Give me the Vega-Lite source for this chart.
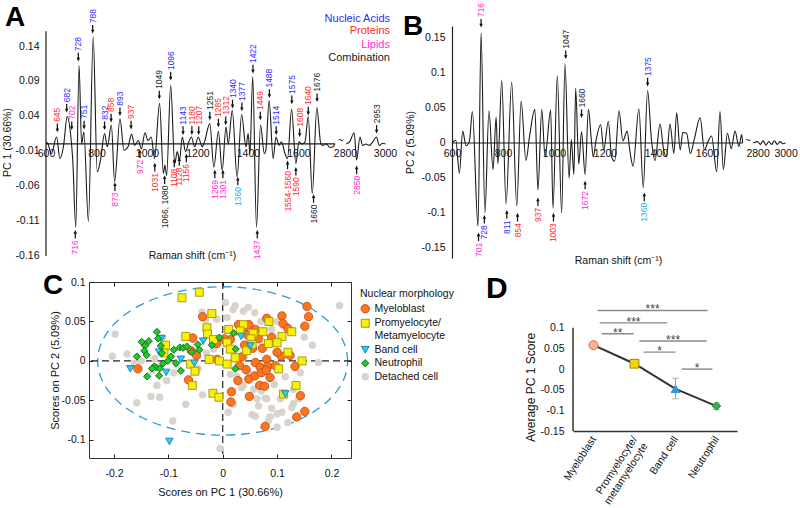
{
"$schema":"https://vega.github.io/schema/vega-lite/v6.json",
"background":"white",
"padding":{"left":2,"top":3,"right":0,"bottom":0},
"config":{
 "view":{"stroke":null},
 "font":"Liberation Sans",
 "axis":{"grid":false,"labelFont":"Liberation Sans","titleFont":"Liberation Sans","labelColor":"#111","titleColor":"#111","titleFontWeight":"normal","domainColor":"#222","tickColor":"#222","labelOverlap":false,"labelFlush":false,"labelBound":false,"tickCount":20},
 "legend":{"labelFont":"Liberation Sans","titleFont":"Liberation Sans"}
},
"bounds":"full","spacing":5,
"vconcat":[
{"hconcat":[
{
 "width":354,"height":232,
 "layer":[
  {"data":{"values":[{}]},"mark":{"type":"rule","color":"#1a1a1a","strokeWidth":1.2},
   "encoding":{"x":{"datum":600},"x2":{"datum":1745},"y":{"datum":0}}},
  {"data":{"values":[{}]},"mark":{"type":"rule","color":"#1a1a1a","strokeWidth":1.2},
   "encoding":{"x":{"datum":600},"y":{"datum":-0.16},"y2":{"datum":0.161}}},
  {"data":{"values":[
   {"w":600,"v":0,"s":1},{"w":605,"v":0.002,"s":1},{"w":621,"v":-0.014,"s":1},{"w":642,"v":0.010,"s":1},{"w":655,"v":-0.021,"s":1},{"w":669,"v":-0.004,"s":1},{"w":684,"v":0.039,"s":1},{"w":698,"v":0.012,"s":1},{"w":706,"v":-0.023,"s":1},{"w":718,"v":-0.119,"s":1},{"w":731,"v":0.112,"s":1},{"w":741,"v":0,"s":1},{"w":750,"v":0.017,"s":1},{"w":768,"v":-0.111,"s":1},{"w":787,"v":0.153,"s":1},{"w":803,"v":-0.04,"s":1},{"w":816,"v":-0.023,"s":1},{"w":832,"v":0.015,"s":1},{"w":843,"v":-0.004,"s":1},{"w":859,"v":0.027,"s":1},{"w":872,"v":-0.054,"s":1},{"w":893,"v":0.036,"s":1},{"w":909,"v":-0.009,"s":1},{"w":925,"v":-0.004,"s":1},{"w":939,"v":0.014,"s":1},{"w":951,"v":-0.002,"s":1},{"w":966,"v":0.005,"s":1},{"w":978,"v":-0.007,"s":1},{"w":992,"v":0.016,"s":1},{"w":1004,"v":0.005,"s":1},{"w":1017,"v":0.010,"s":1},{"w":1030,"v":-0.021,"s":1},{"w":1050,"v":0.058,"s":1},{"w":1065,"v":-0.042,"s":1},{"w":1071,"v":-0.030,"s":1},{"w":1078,"v":-0.045,"s":1},{"w":1094,"v":0.084,"s":1},{"w":1110,"v":-0.028,"s":1},{"w":1120,"v":-0.011,"s":1},{"w":1129,"v":-0.023,"s":1},{"w":1140,"v":0.010,"s":1},{"w":1153,"v":-0.011,"s":1},{"w":1165,"v":0.002,"s":1},{"w":1176,"v":0.010,"s":1},{"w":1189,"v":-0.004,"s":1},{"w":1203,"v":0.010,"s":1},{"w":1219,"v":-0.004,"s":1},{"w":1228,"v":0.003,"s":1},{"w":1249,"v":0.029,"s":1},{"w":1265,"v":-0.033,"s":1},{"w":1283,"v":0.018,"s":1},{"w":1298,"v":-0.038,"s":1},{"w":1313,"v":0.024,"s":1},{"w":1322,"v":0,"s":1},{"w":1338,"v":0.048,"s":1},{"w":1357,"v":-0.047,"s":1},{"w":1375,"v":0.042,"s":1},{"w":1392,"v":-0.004,"s":1},{"w":1401,"v":0.015,"s":1},{"w":1408,"v":-0.014,"s":1},{"w":1419,"v":0.096,"s":1},{"w":1434,"v":-0.119,"s":1},{"w":1450,"v":0.027,"s":1},{"w":1465,"v":-0.014,"s":1},{"w":1471,"v":-0.009,"s":1},{"w":1484,"v":0.062,"s":1},{"w":1500,"v":-0.021,"s":1},{"w":1511,"v":0.010,"s":1},{"w":1524,"v":-0.002,"s":1},{"w":1533,"v":0.003,"s":1},{"w":1547,"v":-0.014,"s":1},{"w":1557,"v":-0.021,"s":1},{"w":1573,"v":0.050,"s":1},{"w":1590,"v":-0.028,"s":1},{"w":1602,"v":0.003,"s":1},{"w":1615,"v":0,"s":1},{"w":1626,"v":0.003,"s":1},{"w":1639,"v":0.039,"s":1},{"w":1655,"v":-0.071,"s":1},{"w":1673,"v":0.052,"s":1},{"w":1689,"v":0,"s":1},{"w":1698,"v":-0.002,"s":1},{"w":1711,"v":0,"s":1},{"w":1725,"v":-0.005,"s":1},{"w":1738,"v":-0.004,"s":1},{"w":1744,"v":0,"s":1},
   {"w":2806,"v":0,"s":2},{"w":2823,"v":0.003,"s":2},{"w":2846,"v":0.016,"s":2},{"w":2858,"v":-0.023,"s":2},{"w":2875,"v":0.010,"s":2},{"w":2888,"v":-0.002,"s":2},{"w":2905,"v":0,"s":2},{"w":2922,"v":-0.002,"s":2},{"w":2939,"v":0.003,"s":2},{"w":2957,"v":0.010,"s":2},{"w":2971,"v":-0.002,"s":2},{"w":2988,"v":0.001,"s":2},{"w":3002,"v":0,"s":2}
  ]},
   "mark":{"type":"line","interpolate":"monotone","color":"#1a1a1a","strokeWidth":1.1},
   "encoding":{
    "x":{"field":"w","type":"quantitative","scale":{"domain":[600,1745,2790,3010],"range":[0,289,297,341],"nice":false,"zero":false},
     "axis":{"orient":"bottom","offset":-115,"values":[600,800,1000,1200,1400,1600,2800,3000],"tickCount":20,"format":"d","domain":false,"ticks":false,"labelPadding":5,"labelFontSize":10.5,"title":"Raman shift (cm⁻¹)","titleFontSize":10.5,"titleX":146,"titleY":112,"titleBaseline":"middle"}},
    "y":{"field":"v","type":"quantitative","scale":{"domain":[-0.163,0.1686],"nice":false,"zero":false},
     "axis":{"values":[-0.16,-0.11,-0.06,-0.01,0.04,0.09,0.14],"tickCount":20,"labelExpr":"'' + datum.value","domain":false,"ticks":false,"labelPadding":7,"labelFontSize":10.5,"title":"PC 1 (30.66%)","titleFontSize":10.5,"titleX":-38.5,"titleBaseline":"middle"}},
    "detail":{"field":"s","type":"nominal"}
   }},
  {"data":{"values":[{"w":2480,"v":0,"t":"~"}]},
   "mark":{"type":"text","fontSize":10,"color":"#222","baseline":"middle","dy":-3},
   "encoding":{"x":{"field":"w","type":"quantitative"},"y":{"field":"v","type":"quantitative"},"text":{"field":"t"}}},
  {"data":{"values":[{"w":437.6,"v":0.1686,"t":"A"}]},
   "mark":{"type":"text","fontSize":28,"fontWeight":"bold","color":"#000","align":"left","baseline":"alphabetic"},
   "encoding":{"x":{"field":"w","type":"quantitative"},"y":{"field":"v","type":"quantitative"},"text":{"field":"t"}}},
  {"data":{"values":[
   {"w":645,"v":0.023,"t":"645","c":"P"},{"w":682,"v":0.051,"t":"682","c":"N"},{"w":702,"v":0.026,"t":"702","c":"L"},{"w":728,"v":0.124,"t":"728","c":"N"},{"w":751,"v":0.027,"t":"751","c":"N"},{"w":785,"v":0.164,"t":"788","c":"N"},{"w":832,"v":0.026,"t":"832","c":"N"},{"w":858,"v":0.037,"t":"858","c":"P"},{"w":893,"v":0.046,"t":"893","c":"N"},{"w":937,"v":0.027,"t":"937","c":"P"},{"w":1049,"v":0.070,"t":"1049","c":"C"},{"w":1094,"v":0.097,"t":"1096","c":"N"},{"w":1143,"v":0.019,"t":"1143","c":"N"},{"w":1178,"v":0.019,"t":"1180","c":"P"},{"w":1205,"v":0.019,"t":"1207","c":"P"},{"w":1249,"v":0.040,"t":"1251","c":"C"},{"w":1283,"v":0.030,"t":"1285","c":"P"},{"w":1312,"v":0.033,"t":"1312","c":"P"},{"w":1339,"v":0.057,"t":"1340","c":"N"},{"w":1376,"v":0.053,"t":"1377","c":"N"},{"w":1420,"v":0.107,"t":"1422","c":"N"},{"w":1449,"v":0.040,"t":"1449","c":"P"},{"w":1485,"v":0.072,"t":"1488","c":"N"},{"w":1512,"v":0.019,"t":"1514","c":"N"},{"w":1574,"v":0.063,"t":"1575","c":"N"},{"w":1605,"v":0.016,"t":"1608","c":"P"},{"w":1639,"v":0.047,"t":"1640","c":"P"},{"w":1674,"v":0.066,"t":"1676","c":"C"},{"w":2958,"v":0.021,"t":"2953","c":"C"}
  ]},
   "layer":[
    {"mark":{"type":"point","shape":"arrow","angle":180,"size":75,"filled":true,"color":"#111","opacity":1},
     "encoding":{"x":{"field":"w","type":"quantitative"},"y":{"field":"v","type":"quantitative"}}},
    {"mark":{"type":"text","angle":270,"align":"left","baseline":"middle","dx":6,"fontSize":8.5},
     "encoding":{"x":{"field":"w","type":"quantitative"},"y":{"field":"v","type":"quantitative"},"text":{"field":"t"},
      "color":{"field":"c","type":"nominal","scale":{"domain":["N","P","L","C","X"],"range":["#2b2bff","#ff2a2a","#ff2ad2","#1a1a1a","#1ab0ee"]},"legend":null}}}
   ]},
  {"data":{"values":[
   {"w":716,"v":-0.129,"t":"716","c":"L"},{"w":873,"v":-0.061,"t":"873","c":"L"},{"w":972,"v":-0.014,"t":"972","c":"L"},{"w":1031,"v":-0.033,"t":"1031","c":"P"},{"w":1070,"v":-0.051,"t":"1066, 1080","c":"C"},{"w":1108,"v":-0.027,"t":"1108","c":"P"},{"w":1128,"v":-0.025,"t":"1128","c":"P"},{"w":1156,"v":-0.020,"t":"1156","c":"P"},{"w":1269,"v":-0.043,"t":"1269","c":"L"},{"w":1301,"v":-0.043,"t":"1301","c":"L"},{"w":1360,"v":-0.053,"t":"1360","c":"X"},{"w":1437,"v":-0.129,"t":"1437","c":"L"},{"w":1557,"v":-0.030,"t":"1554-1560","c":"P"},{"w":1590,"v":-0.039,"t":"1590","c":"P"},{"w":1660,"v":-0.078,"t":"1660","c":"C"},{"w":2858,"v":-0.037,"t":"2850","c":"L"}
  ]},
   "layer":[
    {"mark":{"type":"point","shape":"arrow","angle":0,"size":75,"filled":true,"color":"#111","opacity":1},
     "encoding":{"x":{"field":"w","type":"quantitative"},"y":{"field":"v","type":"quantitative"}}},
    {"mark":{"type":"text","angle":270,"align":"right","baseline":"middle","dx":-6,"fontSize":8.5},
     "encoding":{"x":{"field":"w","type":"quantitative"},"y":{"field":"v","type":"quantitative"},"text":{"field":"t"},
      "color":{"field":"c","type":"nominal","scale":{"domain":["N","P","L","C","X"],"range":["#2b2bff","#ff2a2a","#ff2ad2","#1a1a1a","#1ab0ee"]},"legend":null}}}
   ]},
  {"data":{"values":[{"w":3025,"v":0.179,"t":"Nucleic Acids","c":"N"},{"w":3025,"v":0.1614,"t":"Proteins","c":"P"},{"w":3025,"v":0.1414,"t":"Lipids","c":"L"},{"w":3025,"v":0.1229,"t":"Combination","c":"C"}]},
   "mark":{"type":"text","align":"right","baseline":"middle","fontSize":11},
   "encoding":{"x":{"field":"w","type":"quantitative"},"y":{"field":"v","type":"quantitative"},"text":{"field":"t"},
    "color":{"field":"c","type":"nominal","scale":{"domain":["N","P","L","C","X"],"range":["#2b2bff","#ff2a2a","#ff2ad2","#1a1a1a","#1ab0ee"]},"legend":null}}}
 ]
},
{
 "width":338,"height":232,
 "layer":[
  {"data":{"values":[{}]},"mark":{"type":"rule","color":"#1a1a1a","strokeWidth":1.2},
   "encoding":{"x":{"datum":600},"x2":{"datum":1740},"y":{"datum":0}}},
  {"data":{"values":[
   {"w":600,"v":0,"s":1},{"w":615,"v":0.004,"s":1},{"w":629,"v":-0.043,"s":1},{"w":642,"v":0.017,"s":1},{"w":655,"v":-0.004,"s":1},{"w":668,"v":0.002,"s":1},{"w":680,"v":0.045,"s":1},{"w":702,"v":-0.119,"s":1},{"w":714,"v":0.157,"s":1},{"w":729,"v":-0.100,"s":1},{"w":745,"v":0.046,"s":1},{"w":761,"v":-0.038,"s":1},{"w":773,"v":0.037,"s":1},{"w":780,"v":-0.030,"s":1},{"w":795,"v":0.090,"s":1},{"w":812,"v":-0.087,"s":1},{"w":834,"v":0.087,"s":1},{"w":854,"v":-0.090,"s":1},{"w":871,"v":0.060,"s":1},{"w":890,"v":-0.025,"s":1},{"w":905,"v":0.012,"s":1},{"w":925,"v":0.048,"s":1},{"w":937,"v":-0.067,"s":1},{"w":952,"v":0.048,"s":1},{"w":965,"v":-0.020,"s":1},{"w":987,"v":0.047,"s":1},{"w":996,"v":-0.093,"s":1},{"w":1013,"v":0.096,"s":1},{"w":1030,"v":-0.100,"s":1},{"w":1043,"v":0.113,"s":1},{"w":1059,"v":-0.050,"s":1},{"w":1068,"v":0.005,"s":1},{"w":1078,"v":-0.045,"s":1},{"w":1085,"v":0.078,"s":1},{"w":1097,"v":-0.030,"s":1},{"w":1108,"v":0.016,"s":1},{"w":1122,"v":-0.045,"s":1},{"w":1135,"v":0.048,"s":1},{"w":1146,"v":0.006,"s":1},{"w":1154,"v":-0.020,"s":1},{"w":1165,"v":0.004,"s":1},{"w":1183,"v":0.026,"s":1},{"w":1195,"v":-0.010,"s":1},{"w":1213,"v":0.031,"s":1},{"w":1226,"v":-0.020,"s":1},{"w":1238,"v":-0.026,"s":1},{"w":1255,"v":0.046,"s":1},{"w":1270,"v":0.003,"s":1},{"w":1287,"v":0.017,"s":1},{"w":1297,"v":-0.010,"s":1},{"w":1310,"v":-0.033,"s":1},{"w":1333,"v":0.049,"s":1},{"w":1350,"v":-0.064,"s":1},{"w":1367,"v":0.075,"s":1},{"w":1382,"v":0.005,"s":1},{"w":1396,"v":-0.025,"s":1},{"w":1416,"v":0.027,"s":1},{"w":1430,"v":-0.010,"s":1},{"w":1441,"v":-0.020,"s":1},{"w":1455,"v":0.027,"s":1},{"w":1470,"v":-0.015,"s":1},{"w":1481,"v":0.043,"s":1},{"w":1495,"v":-0.010,"s":1},{"w":1505,"v":0.015,"s":1},{"w":1520,"v":0.014,"s":1},{"w":1535,"v":-0.015,"s":1},{"w":1550,"v":0.005,"s":1},{"w":1573,"v":0.036,"s":1},{"w":1590,"v":-0.010,"s":1},{"w":1604,"v":0.002,"s":1},{"w":1618,"v":0.010,"s":1},{"w":1638,"v":-0.041,"s":1},{"w":1651,"v":0.045,"s":1},{"w":1664,"v":-0.038,"s":1},{"w":1680,"v":0.014,"s":1},{"w":1695,"v":-0.008,"s":1},{"w":1710,"v":0.017,"s":1},{"w":1725,"v":-0.005,"s":1},{"w":1736,"v":0.012,"s":1},{"w":1740,"v":0,"s":1},
   {"w":2770,"v":0,"s":2},{"w":2800,"v":0.002,"s":2},{"w":2820,"v":-0.002,"s":2},{"w":2840,"v":0.003,"s":2},{"w":2860,"v":-0.003,"s":2},{"w":2880,"v":0.002,"s":2},{"w":2900,"v":-0.002,"s":2},{"w":2920,"v":0.003,"s":2},{"w":2940,"v":-0.002,"s":2},{"w":2960,"v":0.002,"s":2},{"w":2980,"v":-0.001,"s":2},{"w":3000,"v":0,"s":2}
  ]},
   "mark":{"type":"line","interpolate":"monotone","color":"#1a1a1a","strokeWidth":1.1},
   "encoding":{
    "x":{"field":"w","type":"quantitative","scale":{"domain":[600,1740,2760,3010],"range":[0,290.7,300,335],"nice":false,"zero":false},
     "axis":{"orient":"bottom","offset":-115,"values":[600,800,1000,1200,1400,1600,2800,3000],"tickCount":20,"format":"d","domain":false,"ticks":false,"labelPadding":5,"labelFontSize":10.5,"title":"Raman shift (cm⁻¹)","titleFontSize":10.5,"titleX":166,"titleY":117,"titleBaseline":"middle"}},
    "y":{"field":"v","type":"quantitative","scale":{"domain":[-0.1643,0.1671],"nice":false,"zero":false},
     "axis":{"values":[-0.15,-0.1,-0.05,0,0.05,0.1,0.15],"tickCount":20,"labelExpr":"'' + datum.value","domain":true,"domainWidth":1.2,"ticks":false,"labelPadding":7,"labelFontSize":10.5,"title":"PC 2 (5.09%)","titleFontSize":10.5,"titleX":-42,"titleBaseline":"middle"}},
    "detail":{"field":"s","type":"nominal"}
   }},
  {"data":{"values":[{"w":2321,"v":0,"t":"~"}]},"mark":{"type":"text","fontSize":10,"color":"#222","baseline":"middle","dy":-2},
   "encoding":{"x":{"field":"w","type":"quantitative"},"y":{"field":"v","type":"quantitative"},"text":{"field":"t"}}},
  {"data":{"values":[{"w":407.8,"v":0.1542,"t":"B"}]},
   "mark":{"type":"text","fontSize":28,"fontWeight":"bold","color":"#000","align":"left","baseline":"alphabetic"},
   "encoding":{"x":{"field":"w","type":"quantitative"},"y":{"field":"v","type":"quantitative"},"text":{"field":"t"}}},
  {"data":{"values":[{"w":714,"v":0.171,"t":"716","c":"L"},{"w":1046,"v":0.126,"t":"1047","c":"C"},{"w":1108,"v":0.042,"t":"1660","c":"C"},{"w":1367,"v":0.087,"t":"1375","c":"N"}]},
   "layer":[
    {"mark":{"type":"point","shape":"arrow","angle":180,"size":75,"filled":true,"color":"#111","opacity":1},
     "encoding":{"x":{"field":"w","type":"quantitative"},"y":{"field":"v","type":"quantitative"}}},
    {"mark":{"type":"text","angle":270,"align":"left","baseline":"middle","dx":6,"fontSize":8.5},
     "encoding":{"x":{"field":"w","type":"quantitative"},"y":{"field":"v","type":"quantitative"},"text":{"field":"t"},
      "color":{"field":"c","type":"nominal","scale":{"domain":["N","P","L","C","X"],"range":["#2b2bff","#ff2a2a","#ff2ad2","#1a1a1a","#1ab0ee"]},"legend":null}}}
   ]},
  {"data":{"values":[{"w":704,"v":-0.134,"t":"701","c":"L"},{"w":727,"v":-0.109,"t":"728","c":"N"},{"w":815,"v":-0.102,"t":"811","c":"N"},{"w":857,"v":-0.106,"t":"854","c":"P"},{"w":937,"v":-0.084,"t":"937","c":"P"},{"w":998,"v":-0.106,"t":"1003","c":"P"},{"w":1122,"v":-0.060,"t":"1672","c":"L"},{"w":1354,"v":-0.077,"t":"1360","c":"X"}]},
   "layer":[
    {"mark":{"type":"point","shape":"arrow","angle":0,"size":75,"filled":true,"color":"#111","opacity":1},
     "encoding":{"x":{"field":"w","type":"quantitative"},"y":{"field":"v","type":"quantitative"}}},
    {"mark":{"type":"text","angle":270,"align":"right","baseline":"middle","dx":-6,"fontSize":8.5},
     "encoding":{"x":{"field":"w","type":"quantitative"},"y":{"field":"v","type":"quantitative"},"text":{"field":"t"},
      "color":{"field":"c","type":"nominal","scale":{"domain":["N","P","L","C","X"],"range":["#2b2bff","#ff2a2a","#ff2ad2","#1a1a1a","#1ab0ee"]},"legend":null}}}
   ]}
 ]
}
],"spacing":52,"bounds":"flush"},
{"hconcat":[
{"width":43,"height":1,"data":{"values":[]},"mark":"point"},
{
 "width":262,"height":176,
 "view":{"stroke":"#333","strokeWidth":1},
 "resolve":{"axis":{"x":"independent","y":"independent"}},
 "layer":[
  {"data":{"values":[
   {"i":0,"x":0.23,"y":0},{"i":1,"x":0.2265,"y":0.0163},{"i":2,"x":0.2161,"y":0.0321},{"i":3,"x":0.1992,"y":0.047},{"i":4,"x":0.1762,"y":0.0604},{"i":5,"x":0.1478,"y":0.072},{"i":6,"x":0.115,"y":0.0814},{"i":7,"x":0.0787,"y":0.0883},{"i":8,"x":0.0399,"y":0.0926},{"i":9,"x":0,"y":0.094},{"i":10,"x":-0.0399,"y":0.0926},{"i":11,"x":-0.0787,"y":0.0883},{"i":12,"x":-0.115,"y":0.0814},{"i":13,"x":-0.1478,"y":0.072},{"i":14,"x":-0.1762,"y":0.0604},{"i":15,"x":-0.1992,"y":0.047},{"i":16,"x":-0.2161,"y":0.0321},{"i":17,"x":-0.2265,"y":0.0163},{"i":18,"x":-0.23,"y":0},{"i":19,"x":-0.2265,"y":-0.0163},{"i":20,"x":-0.2161,"y":-0.0321},{"i":21,"x":-0.1992,"y":-0.047},{"i":22,"x":-0.1762,"y":-0.0604},{"i":23,"x":-0.1478,"y":-0.072},{"i":24,"x":-0.115,"y":-0.0814},{"i":25,"x":-0.0787,"y":-0.0883},{"i":26,"x":-0.0399,"y":-0.0926},{"i":27,"x":0,"y":-0.094},{"i":28,"x":0.0399,"y":-0.0926},{"i":29,"x":0.0787,"y":-0.0883},{"i":30,"x":0.115,"y":-0.0814},{"i":31,"x":0.1478,"y":-0.072},{"i":32,"x":0.1762,"y":-0.0604},{"i":33,"x":0.1992,"y":-0.047},{"i":34,"x":0.2161,"y":-0.0321},{"i":35,"x":0.2265,"y":-0.0163},{"i":36,"x":0.23,"y":0}
  ]},
   "mark":{"type":"line","interpolate":"cardinal","color":"#2b9bd6","strokeWidth":1.3,"strokeDash":[9,6]},
   "encoding":{
    "x":{"field":"x","type":"quantitative","scale":{"domain":[-0.246,0.236],"nice":false,"zero":false},"axis":{"orient":"top","values":[-0.2,-0.1,0,0.1,0.2],"labels":false,"domain":false,"ticks":true,"tickSize":-4,"title":null}},
    "y":{"field":"y","type":"quantitative","scale":{"domain":[-0.123,0.1],"nice":false,"zero":false},"axis":{"orient":"right","values":[-0.1,-0.05,0,0.05,0.1],"labels":false,"domain":false,"ticks":true,"tickSize":-4,"title":null}},
    "order":{"field":"i","type":"quantitative"}
   }},
  {"data":{"values":[{}]},"mark":{"type":"rule","color":"#222","strokeWidth":1.2,"strokeDash":[7,4]},
   "encoding":{"y":{"datum":0,"axis":null}}},
  {"data":{"values":[{}]},"mark":{"type":"rule","color":"#222","strokeWidth":1.2,"strokeDash":[7,4]},
   "encoding":{"x":{"datum":0,"axis":null}}},
  {"data":{"values":[{"x":-0.3306,"y":0.0843,"t":"C"}]},
   "mark":{"type":"text","fontSize":28,"fontWeight":"bold","color":"#000","align":"left","baseline":"alphabetic"},
   "encoding":{"x":{"field":"x","type":"quantitative","axis":null},"y":{"field":"y","type":"quantitative","axis":null},"text":{"field":"t"}}},
  {"data":{"values":[
   {"x":-0.198,"y":0.034,"type":"Detached cell"},{"x":-0.203,"y":0.006,"type":"Detached cell"},{"x":-0.176,"y":0.009,"type":"Detached cell"},{"x":-0.162,"y":-0.003,"type":"Detached cell"},{"x":-0.158,"y":-0.053,"type":"Detached cell"},{"x":-0.132,"y":-0.045,"type":"Detached cell"},{"x":-0.116,"y":-0.046,"type":"Detached cell"},{"x":-0.092,"y":-0.076,"type":"Detached cell"},{"x":-0.068,"y":-0.055,"type":"Detached cell"},{"x":-0.037,"y":-0.043,"type":"Detached cell"},{"x":-0.130,"y":-0.012,"type":"Detached cell"},{"x":-0.121,"y":-0.031,"type":"Detached cell"},{"x":-0.103,"y":-0.025,"type":"Detached cell"},{"x":-0.005,"y":-0.111,"type":"Detached cell"},{"x":0.005,"y":0.074,"type":"Detached cell"},{"x":0.019,"y":0.065,"type":"Detached cell"},{"x":0.047,"y":0.068,"type":"Detached cell"},{"x":0.059,"y":0.061,"type":"Detached cell"},{"x":0.038,"y":0.063,"type":"Detached cell"},{"x":0.023,"y":0.070,"type":"Detached cell"},{"x":0.215,"y":0.070,"type":"Detached cell"},{"x":0.176,"y":-0.002,"type":"Detached cell"},{"x":0.143,"y":-0.015,"type":"Detached cell"},{"x":0.130,"y":-0.036,"type":"Detached cell"},{"x":0.130,"y":-0.054,"type":"Detached cell"},{"x":0.109,"y":-0.065,"type":"Detached cell"},{"x":0.100,"y":-0.084,"type":"Detached cell"},{"x":0.087,"y":-0.071,"type":"Detached cell"},{"x":0.081,"y":-0.048,"type":"Detached cell"},{"x":0.057,"y":-0.036,"type":"Detached cell"},{"x":0.038,"y":-0.031,"type":"Detached cell"},{"x":0.026,"y":-0.020,"type":"Detached cell"},{"x":0.014,"y":-0.017,"type":"Detached cell"},{"x":0.063,"y":-0.048,"type":"Detached cell"},{"x":-0.011,"y":0.053,"type":"Detached cell"},{"x":-0.017,"y":0.015,"type":"Detached cell"},{"x":-0.031,"y":0.052,"type":"Detached cell"},{"x":0.118,"y":0.044,"type":"Detached cell"},{"x":0.078,"y":-0.047,"type":"Detached cell"},{"x":0.106,"y":-0.048,"type":"Detached cell"},{"x":0.100,"y":-0.067,"type":"Detached cell"},{"x":0.084,"y":-0.076,"type":"Detached cell"},{"x":0.127,"y":-0.059,"type":"Detached cell"},{"x":0.066,"y":-0.057,"type":"Detached cell"},{"x":0.054,"y":-0.068,"type":"Detached cell"},{"x":0.071,"y":-0.038,"type":"Detached cell"},{"x":0.048,"y":-0.015,"type":"Detached cell"},{"x":0.035,"y":-0.034,"type":"Detached cell"},{"x":0.020,"y":-0.055,"type":"Detached cell"},{"x":-0.150,"y":0.000,"type":"Detached cell"},{"x":-0.125,"y":0.003,"type":"Detached cell"},{"x":-0.090,"y":-0.015,"type":"Detached cell"},{"x":-0.085,"y":-0.005,"type":"Detached cell"},{"x":-0.110,"y":0.030,"type":"Detached cell"},{"x":0.090,"y":0.040,"type":"Detached cell"},{"x":0.100,"y":0.050,"type":"Detached cell"},{"x":0.070,"y":0.050,"type":"Detached cell"},{"x":0.040,"y":0.005,"type":"Detached cell"},{"x":0.095,"y":-0.030,"type":"Detached cell"},{"x":0.115,"y":-0.020,"type":"Detached cell"},{"x":0.060,"y":-0.070,"type":"Detached cell"},{"x":0.090,"y":-0.060,"type":"Detached cell"},{"x":-0.045,"y":-0.010,"type":"Detached cell"},{"x":-0.030,"y":0.010,"type":"Detached cell"},{"x":0.010,"y":-0.065,"type":"Detached cell"},{"x":0.140,"y":-0.048,"type":"Detached cell"},{"x":0.120,"y":-0.078,"type":"Detached cell"},{"x":-0.038,"y":0.062,"type":"Detached cell"},{"x":0.008,"y":0.055,"type":"Detached cell"},{"x":0.150,"y":0.030,"type":"Detached cell"},{"x":0.165,"y":0.020,"type":"Detached cell"},
   {"x":-0.037,"y":0.056,"type":"Myeloblast"},{"x":-0.055,"y":0.029,"type":"Myeloblast"},{"x":-0.058,"y":0.013,"type":"Myeloblast"},{"x":-0.048,"y":0.007,"type":"Myeloblast"},{"x":-0.010,"y":0.002,"type":"Myeloblast"},{"x":-0.156,"y":-0.010,"type":"Myeloblast"},{"x":-0.063,"y":-0.024,"type":"Myeloblast"},{"x":0.155,"y":0.069,"type":"Myeloblast"},{"x":0.158,"y":0.056,"type":"Myeloblast"},{"x":0.151,"y":0.044,"type":"Myeloblast"},{"x":0.109,"y":0.057,"type":"Myeloblast"},{"x":0.111,"y":0.047,"type":"Myeloblast"},{"x":0.120,"y":0.041,"type":"Myeloblast"},{"x":0.081,"y":0.054,"type":"Myeloblast"},{"x":0.029,"y":0.046,"type":"Myeloblast"},{"x":0.038,"y":0.040,"type":"Myeloblast"},{"x":0.048,"y":0.046,"type":"Myeloblast"},{"x":0.060,"y":0.040,"type":"Myeloblast"},{"x":0.066,"y":0.028,"type":"Myeloblast"},{"x":0.073,"y":0.016,"type":"Myeloblast"},{"x":0.014,"y":0.027,"type":"Myeloblast"},{"x":-0.011,"y":0.022,"type":"Myeloblast"},{"x":0.060,"y":-0.002,"type":"Myeloblast"},{"x":0.081,"y":0.002,"type":"Myeloblast"},{"x":0.069,"y":-0.008,"type":"Myeloblast"},{"x":0.083,"y":-0.007,"type":"Myeloblast"},{"x":0.097,"y":-0.006,"type":"Myeloblast"},{"x":0.108,"y":0.006,"type":"Myeloblast"},{"x":0.124,"y":0.007,"type":"Myeloblast"},{"x":0.133,"y":-0.007,"type":"Myeloblast"},{"x":0.043,"y":-0.011,"type":"Myeloblast"},{"x":0.048,"y":-0.023,"type":"Myeloblast"},{"x":0.028,"y":-0.025,"type":"Myeloblast"},{"x":0.059,"y":-0.019,"type":"Myeloblast"},{"x":0.071,"y":-0.015,"type":"Myeloblast"},{"x":0.087,"y":-0.021,"type":"Myeloblast"},{"x":0.068,"y":-0.031,"type":"Myeloblast"},{"x":0.077,"y":-0.032,"type":"Myeloblast"},{"x":0.049,"y":-0.045,"type":"Myeloblast"},{"x":0.016,"y":-0.039,"type":"Myeloblast"},{"x":0.015,"y":-0.052,"type":"Myeloblast"},{"x":0.143,"y":-0.044,"type":"Myeloblast"},{"x":0.136,"y":-0.071,"type":"Myeloblast"},{"x":0.151,"y":-0.064,"type":"Myeloblast"},{"x":0.078,"y":-0.083,"type":"Myeloblast"},{"x":0.031,"y":-0.006,"type":"Myeloblast"},{"x":0.045,"y":0.033,"type":"Myeloblast"},{"x":0.003,"y":0.028,"type":"Myeloblast"},{"x":0.055,"y":0.016,"type":"Myeloblast"},{"x":0.090,"y":0.030,"type":"Myeloblast"},{"x":0.100,"y":0.011,"type":"Myeloblast"},{"x":0.035,"y":0.005,"type":"Myeloblast"},{"x":0.080,"y":-0.012,"type":"Myeloblast"},{"x":0.040,"y":0.020,"type":"Myeloblast"},
   {"x":-0.075,"y":0.080,"type":"Promyelocyte/Metamyelocyte"},{"x":-0.043,"y":0.087,"type":"Promyelocyte/Metamyelocyte"},{"x":-0.020,"y":0.060,"type":"Promyelocyte/Metamyelocyte"},{"x":-0.029,"y":0.042,"type":"Promyelocyte/Metamyelocyte"},{"x":-0.028,"y":0.034,"type":"Promyelocyte/Metamyelocyte"},{"x":-0.068,"y":0.031,"type":"Promyelocyte/Metamyelocyte"},{"x":-0.105,"y":0.020,"type":"Promyelocyte/Metamyelocyte"},{"x":-0.108,"y":0.010,"type":"Promyelocyte/Metamyelocyte"},{"x":-0.017,"y":0.027,"type":"Promyelocyte/Metamyelocyte"},{"x":-0.025,"y":0.002,"type":"Promyelocyte/Metamyelocyte"},{"x":-0.059,"y":-0.004,"type":"Promyelocyte/Metamyelocyte"},{"x":-0.051,"y":-0.013,"type":"Promyelocyte/Metamyelocyte"},{"x":-0.056,"y":-0.031,"type":"Promyelocyte/Metamyelocyte"},{"x":-0.018,"y":-0.041,"type":"Promyelocyte/Metamyelocyte"},{"x":-0.007,"y":-0.046,"type":"Promyelocyte/Metamyelocyte"},{"x":0.011,"y":0.040,"type":"Promyelocyte/Metamyelocyte"},{"x":0.038,"y":0.046,"type":"Promyelocyte/Metamyelocyte"},{"x":0.032,"y":0.038,"type":"Promyelocyte/Metamyelocyte"},{"x":0.056,"y":0.035,"type":"Promyelocyte/Metamyelocyte"},{"x":0.074,"y":0.037,"type":"Promyelocyte/Metamyelocyte"},{"x":0.127,"y":0.037,"type":"Promyelocyte/Metamyelocyte"},{"x":0.109,"y":0.031,"type":"Promyelocyte/Metamyelocyte"},{"x":0.100,"y":0.023,"type":"Promyelocyte/Metamyelocyte"},{"x":0.084,"y":0.022,"type":"Promyelocyte/Metamyelocyte"},{"x":0.052,"y":0.028,"type":"Promyelocyte/Metamyelocyte"},{"x":0.044,"y":0.013,"type":"Promyelocyte/Metamyelocyte"},{"x":0.008,"y":0.023,"type":"Promyelocyte/Metamyelocyte"},{"x":0.014,"y":0.015,"type":"Promyelocyte/Metamyelocyte"},{"x":0.023,"y":0.004,"type":"Promyelocyte/Metamyelocyte"},{"x":-0.006,"y":0.000,"type":"Promyelocyte/Metamyelocyte"},{"x":0.008,"y":-0.004,"type":"Promyelocyte/Metamyelocyte"},{"x":0.103,"y":-0.010,"type":"Promyelocyte/Metamyelocyte"},{"x":0.120,"y":0.011,"type":"Promyelocyte/Metamyelocyte"},{"x":0.146,"y":0.000,"type":"Promyelocyte/Metamyelocyte"},{"x":0.135,"y":-0.031,"type":"Promyelocyte/Metamyelocyte"},{"x":0.112,"y":-0.042,"type":"Promyelocyte/Metamyelocyte"},{"x":0.054,"y":0.021,"type":"Promyelocyte/Metamyelocyte"},{"x":0.085,"y":0.050,"type":"Promyelocyte/Metamyelocyte"},
   {"x":-0.113,"y":0.028,"type":"Band cell"},{"x":-0.117,"y":0.011,"type":"Band cell"},{"x":-0.170,"y":-0.010,"type":"Band cell"},{"x":-0.104,"y":-0.0146,"type":"Band cell"},{"x":-0.077,"y":0.002,"type":"Band cell"},{"x":-0.052,"y":-0.003,"type":"Band cell"},{"x":-0.098,"y":-0.102,"type":"Band cell"},{"x":-0.036,"y":0.025,"type":"Band cell"},{"x":0.034,"y":0.031,"type":"Band cell"},{"x":0.051,"y":0.019,"type":"Band cell"},{"x":0.115,"y":-0.042,"type":"Band cell"},
   {"x":-0.121,"y":0.0368,"type":"Neutrophil"},{"x":-0.119,"y":0.0284,"type":"Neutrophil"},{"x":-0.149,"y":0.0242,"type":"Neutrophil"},{"x":-0.136,"y":0.025,"type":"Neutrophil"},{"x":-0.143,"y":0.0191,"type":"Neutrophil"},{"x":-0.144,"y":0.0128,"type":"Neutrophil"},{"x":-0.140,"y":0.0073,"type":"Neutrophil"},{"x":-0.158,"y":0.0056,"type":"Neutrophil"},{"x":-0.114,"y":0.0191,"type":"Neutrophil"},{"x":-0.112,"y":0.0099,"type":"Neutrophil"},{"x":-0.101,"y":0.0,"type":"Neutrophil"},{"x":-0.095,"y":0.0056,"type":"Neutrophil"},{"x":-0.090,"y":0.0141,"type":"Neutrophil"},{"x":-0.079,"y":0.017,"type":"Neutrophil"},{"x":-0.073,"y":0.0166,"type":"Neutrophil"},{"x":-0.066,"y":0.0183,"type":"Neutrophil"},{"x":-0.086,"y":-0.0028,"type":"Neutrophil"},{"x":-0.077,"y":-0.0125,"type":"Neutrophil"},{"x":-0.126,"y":-0.007,"type":"Neutrophil"},{"x":-0.122,"y":-0.0083,"type":"Neutrophil"},{"x":-0.130,"y":-0.0095,"type":"Neutrophil"},{"x":-0.116,"y":-0.0095,"type":"Neutrophil"},{"x":-0.117,"y":-0.0188,"type":"Neutrophil"},{"x":-0.139,"y":-0.0196,"type":"Neutrophil"},{"x":-0.110,"y":-0.0032,"type":"Neutrophil"},{"x":-0.057,"y":0.0115,"type":"Neutrophil"},{"x":-0.043,"y":0.0141,"type":"Neutrophil"},{"x":-0.046,"y":0.0208,"type":"Neutrophil"},{"x":-0.020,"y":0.020,"type":"Neutrophil"},{"x":-0.006,"y":0.0296,"type":"Neutrophil"},{"x":0.020,"y":0.0351,"type":"Neutrophil"},{"x":0.024,"y":0.015,"type":"Neutrophil"},{"x":0.023,"y":-0.010,"type":"Neutrophil"}
  ]},
   "mark":{"type":"point","filled":true,"strokeWidth":0.9,"opacity":1},
   "encoding":{
    "x":{"field":"x","type":"quantitative","axis":{"orient":"bottom","values":[-0.2,-0.1,0,0.1,0.2],"labelExpr":"'' + datum.value","domain":false,"ticks":true,"tickSize":-4,"labelPadding":14,"labelFontSize":10.5,"title":"Scores on PC 1 (30.66%)","titleFontSize":11,"titleY":34,"titleBaseline":"middle"}},
    "y":{"field":"y","type":"quantitative","axis":{"orient":"left","values":[-0.1,-0.05,0,0.05,0.1],"labelExpr":"'' + datum.value","domain":false,"ticks":true,"tickSize":-4,"labelPadding":8,"labelFontSize":10.5,"title":"Scores on PC 2 (5.09%)","titleFontSize":11,"titleX":-34,"titleBaseline":"middle"}},
    "fill":{"field":"type","type":"nominal","scale":{"domain":["Myeloblast","Promyelocyte/Metamyelocyte","Band cell","Neutrophil","Detached cell"],"range":["#f7791c","#f8ef0c","#2ecbf5","#1fcc2a","#d8d3cd"]},
     "legend":{"title":"Nuclear morphology","orient":"none","legendX":271,"legendY":7,"titleFontSize":10.5,"titleFontWeight":"normal","titleColor":"#111","labelFontSize":10.5,"labelColor":"#111","labelExpr":"datum.label == 'Promyelocyte/Metamyelocyte' ? ['Promyelocyte/', 'Metamyelocyte'] : datum.label","rowPadding":1.5,"titlePadding":4,"labelOffset":4,"symbolStrokeWidth":1,"padding":0,"labelLimit":200}},
    "stroke":{"field":"type","type":"nominal","scale":{"domain":["Myeloblast","Promyelocyte/Metamyelocyte","Band cell","Neutrophil","Detached cell"],"range":["#d4461a","#9e9600","#1a82b8","#0f5f12","#d8d3cd"]}},
    "shape":{"field":"type","type":"nominal","scale":{"domain":["Myeloblast","Promyelocyte/Metamyelocyte","Band cell","Neutrophil","Detached cell"],"range":["circle","square","triangle-down","diamond","circle"]}},
    "size":{"field":"type","type":"nominal","scale":{"domain":["Myeloblast","Promyelocyte/Metamyelocyte","Band cell","Neutrophil","Detached cell"],"range":[70,45,75,60,60]}}
   }}
 ]
},
{"width":222,"height":1,"data":{"values":[]},"mark":"point"},
{
 "width":164,"height":149,
 "layer":[
  {"data":{"values":[{}]},"mark":{"type":"rule","color":"#333","strokeWidth":1.5},
   "encoding":{"x":{"datum":0.5},"y":{"datum":-0.15},"y2":{"datum":0.1}}},
  {"data":{"values":[{"a":1.1,"b":3.78,"y":0.142,"m":2.44,"s":"***"},{"a":1.15,"b":2.8,"y":0.112,"m":1.975,"s":"***"},{"a":1.2,"b":1.98,"y":0.0855,"m":1.59,"s":"**"},{"a":2.12,"b":3.76,"y":0.068,"m":2.94,"s":"***"},{"a":2.22,"b":3.0,"y":0.041,"m":2.61,"s":"*"},{"a":3.15,"b":3.9,"y":0.0,"m":3.525,"s":"*"}]},
   "layer":[
    {"mark":{"type":"rule","color":"#8a8a8a","strokeWidth":1.4},
     "encoding":{"x":{"field":"a","type":"quantitative"},"x2":{"field":"b"},"y":{"field":"y","type":"quantitative"}}},
    {"mark":{"type":"text","baseline":"alphabetic","dy":3,"fontSize":12,"color":"#444"},
     "encoding":{"x":{"field":"m","type":"quantitative"},"y":{"field":"y","type":"quantitative"},"text":{"field":"s"}}}
   ]},
  {"data":{"values":[{"x":-1.622,"y":0.1722,"t":"D"}]},
   "mark":{"type":"text","fontSize":30,"fontWeight":"bold","color":"#000","align":"left","baseline":"alphabetic"},
   "encoding":{"x":{"field":"x","type":"quantitative"},"y":{"field":"y","type":"quantitative"},"text":{"field":"t"}}},
  {"data":{"values":[{"k":"Myeloblast","c":1,"m":0.058,"lo":0.054,"hi":0.062},{"k":"Promyelocyte","c":2,"m":0.013,"lo":0.009,"hi":0.017},{"k":"Band","c":3,"m":-0.048,"lo":-0.072,"hi":-0.022},{"k":"Neutrophil","c":4,"m":-0.0896,"lo":-0.098,"hi":-0.082}]},
   "layer":[
    {"mark":{"type":"line","color":"#333","strokeWidth":2},
     "encoding":{
      "x":{"field":"c","type":"quantitative","scale":{"domain":[0.5,4.5],"nice":false,"zero":false},
       "axis":{"values":[1,2,3,4],"tickCount":20,"labelExpr":"datum.value == 1 ? 'Myeloblast' : datum.value == 2 ? ['Promyelocyte/', 'metamyelocyte'] : datum.value == 3 ? 'Band cell' : 'Neutrophil'","labelAngle":-57,"labelAlign":"right","labelBaseline":"middle","labelPadding":6,"ticks":false,"domain":true,"domainColor":"#333","domainWidth":1.5,"labelFontSize":10.5,"title":null}},
      "y":{"field":"m","type":"quantitative","scale":{"domain":[-0.15,0.211],"nice":false,"zero":false},
       "axis":{"values":[-0.15,-0.1,-0.05,0,0.05,0.1],"tickCount":20,"labelExpr":"'' + datum.value","domain":false,"ticks":false,"labelPadding":9,"labelFontSize":10.5,"title":"Average PC 1 Score","titleFontSize":12,"titleX":-43,"titleY":105,"titleBaseline":"middle"}}
     }},
    {"mark":{"type":"rule","color":"#9a9a9a","strokeWidth":1},
     "encoding":{"x":{"field":"c","type":"quantitative"},"y":{"field":"lo","type":"quantitative"},"y2":{"field":"hi"}}},
    {"mark":{"type":"tick","orient":"horizontal","color":"#9a9a9a","size":7,"thickness":1},
     "encoding":{"x":{"field":"c","type":"quantitative"},"y":{"field":"lo","type":"quantitative"}}},
    {"mark":{"type":"tick","orient":"horizontal","color":"#9a9a9a","size":7,"thickness":1},
     "encoding":{"x":{"field":"c","type":"quantitative"},"y":{"field":"hi","type":"quantitative"}}},
    {"mark":{"type":"point","filled":true,"strokeWidth":1,"opacity":1},
     "encoding":{"x":{"field":"c","type":"quantitative"},"y":{"field":"m","type":"quantitative"},
      "shape":{"field":"k","type":"nominal","scale":{"domain":["Myeloblast","Promyelocyte","Band","Neutrophil"],"range":["circle","square","triangle-up","diamond"]},"legend":null},
      "fill":{"field":"k","type":"nominal","scale":{"domain":["Myeloblast","Promyelocyte","Band","Neutrophil"],"range":["#f8b592","#f5d40f","#2b9fe8","#2fb548"]},"legend":null},
      "stroke":{"field":"k","type":"nominal","scale":{"domain":["Myeloblast","Promyelocyte","Band","Neutrophil"],"range":["#e0643c","#9e8600","#2b8fd8","#1f8a35"]},"legend":null},
      "size":{"field":"k","type":"nominal","scale":{"domain":["Myeloblast","Promyelocyte","Band","Neutrophil"],"range":[80,70,75,40]},"legend":null}}}
   ]}
 ]
}
],"spacing":0,"bounds":"flush",
 "resolve":{"scale":{"fill":"independent","stroke":"independent","shape":"independent","size":"independent"},"legend":{"fill":"independent","stroke":"independent","shape":"independent","size":"independent"}}}
]
}
